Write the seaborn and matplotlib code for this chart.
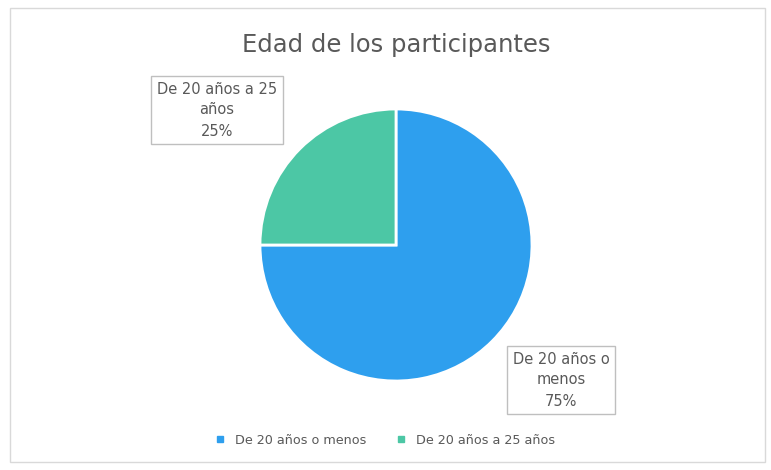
import matplotlib
matplotlib.use("Agg")
import matplotlib.pyplot as plt
import seaborn as sns
from matplotlib.patches import Rectangle

categories = ["De 20 años o menos", "De 20 años a 25 años"]
values = [75, 25]
label_texts = ["De 20 años o\nmenos", "De 20 años a 25\naños"]
colors = ["#2E9FEE", "#4CC7A5"]
title = "Edad de los participantes"

sns.set_theme(style="white")
plt.rcParams['font.family'] = ['DejaVu Sans']

W, H = 771, 470
fig = plt.figure(figsize=(W / 100, H / 100), dpi=100)
fig.patch.set_facecolor("white")
fig.patches.append(Rectangle((10 / W, 8 / H), 755 / W, 454 / H, transform=fig.transFigure,
                             fill=False, edgecolor="#D9D9D9", linewidth=1))

cx, cy, r = 396, 245, 136
ax = fig.add_axes([(cx - r) / W, 1 - (cy + r) / H, 2 * r / W, 2 * r / H])
wedges, _ = ax.pie(values, colors=colors, startangle=90, counterclock=False,
                   wedgeprops=dict(edgecolor="white", linewidth=2))
ax.set_xlim(-1, 1)
ax.set_ylim(-1, 1)
ax.axis("off")

tc = "#595959"
fig.text(396 / W, 1 - 45 / H, title, ha="center", va="center", fontsize=17.5, color=tc)

total = sum(values)
label_pos = [(561, 380), (217, 110)]
for txt, v, (x, y) in zip(label_texts, values, label_pos):
    fig.text(x / W, 1 - y / H, f"{txt}\n{round(100 * v / total)}%", ha="center", va="center",
             fontsize=10.5, color=tc, linespacing=1.5,
             bbox=dict(boxstyle="square,pad=0.4", fc="white", ec="#BFBFBF", lw=1))

handles = [plt.Line2D([], [], marker="s", color=c, linestyle="", markersize=4.5) for c in colors]
fig.legend(handles, categories, loc="center", bbox_to_anchor=(381 / W, 1 - 440 / H), ncol=2,
           frameon=False, fontsize=9.2, labelcolor=tc, handletextpad=0.2, columnspacing=1.7)

fig.savefig("out.png", dpi=100)
